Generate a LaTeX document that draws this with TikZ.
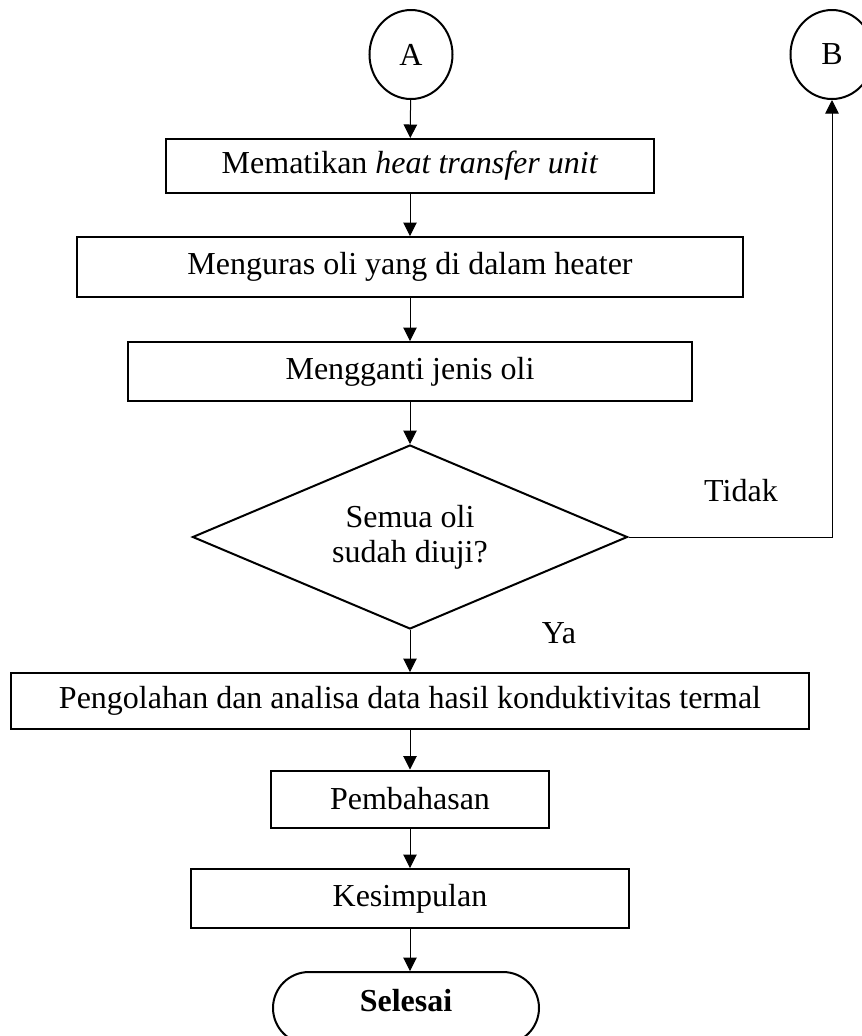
\documentclass[tikz,border=0pt]{standalone}
\usepackage{fontspec}
\setmainfont{Liberation Serif}
\usepackage{tikz}
\usetikzlibrary{arrows.meta,positioning,shapes.geometric}

\begin{document}
\begin{tikzpicture}[
    x=0.4pt, y=-0.4pt,
    >={Triangle[length=5.4pt,width=5.4pt]},
    konektor/.style={ellipse, draw, line width=0.8pt, minimum width=33.2pt, minimum height=35.6pt, inner sep=0pt, font=\fontsize{12.8}{15}\selectfont},
    proses/.style={draw, line width=0.8pt, inner sep=0pt, align=center, font=\fontsize{12.8}{15}\selectfont},
    keputusan/.style={diamond, draw, line width=0.8pt, inner sep=0pt, aspect=2.36, minimum width=174pt, minimum height=73.6pt, align=center, font=\fontsize{12.8}{14}\selectfont},
    terminal/.style={draw, line width=0.8pt, rounded corners=14.4pt, inner sep=0pt, minimum width=106.4pt, minimum height=28.8pt, text depth=6.4pt, font=\bfseries\fontsize{12.8}{15}\selectfont},
    ket/.style={font=\fontsize{12.8}{15}\selectfont}
]
\useasboundingbox (0,0) rectangle (862,1036);
\node[konektor] (A) at (411,54.5) {A};
\node[konektor] (B) at (832,54.5) {B};
\node[proses, minimum width=194.8pt, minimum height=21.6pt] (matikan) at (410,166) {Mematikan \textit{heat transfer unit}};
\node[proses, minimum width=266pt, minimum height=24pt] (kuras) at (410,267) {Menguras oli yang di dalam heater};
\node[proses, minimum width=225.2pt, minimum height=23.6pt] (ganti) at (410,371.5) {Mengganti jenis oli};
\node[keputusan] (cek) at (410,537) {Semua oli\\sudah diuji?};
\node[proses, minimum width=318.8pt, minimum height=22.4pt] (olah) at (410,701) {Pengolahan dan analisa data hasil konduktivitas termal};
\node[proses, minimum width=110.8pt, minimum height=22.8pt] (bahas) at (410,799) {Pembahasan};
\node[proses, minimum width=175.2pt, minimum height=23.6pt] (simpul) at (410,898.5) {Kesimpulan};
\node[terminal] (selesai) at (406,1008) {Selesai};
\node[ket] (tidak) at (741,491) {Tidak};
\node[ket] (ya) at (559,633) {Ya};
\draw[->] (A) -- (matikan);
\draw[->] (matikan) -- (kuras);
\draw[->] (kuras) -- (ganti);
\draw[->] (ganti) -- (cek);
\draw[->] (cek) -- (olah);
\draw[->] (olah) -- (bahas);
\draw[->] (bahas) -- (simpul);
\draw[->] (simpul) -- (selesai.north -| simpul);
\draw[->] (cek.east) -| (B.south);
\end{tikzpicture}
\end{document}
